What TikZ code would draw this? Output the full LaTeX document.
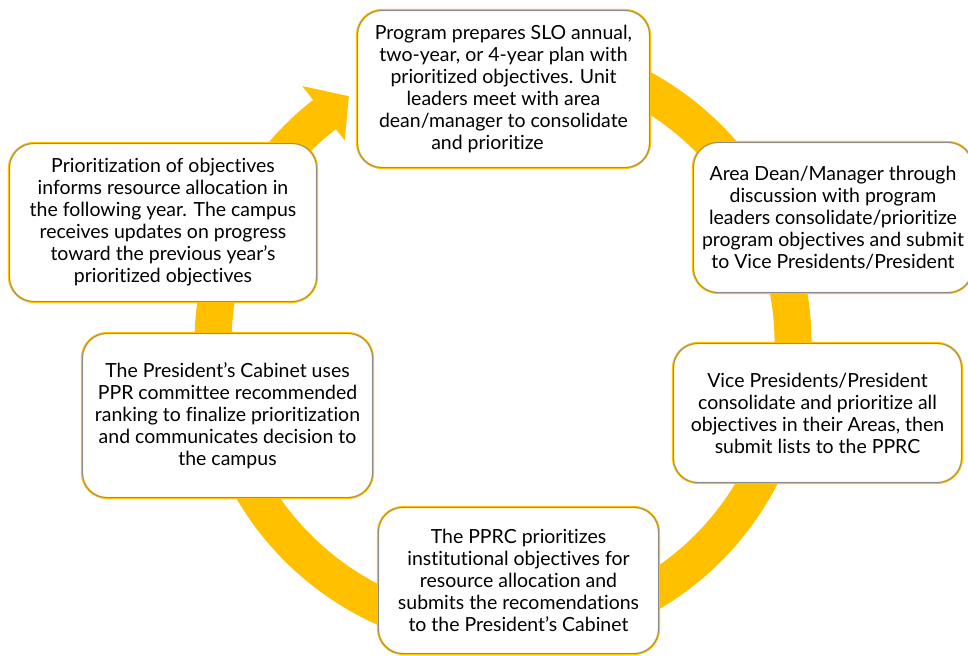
\documentclass[tikz,border=0pt]{standalone}
\usepackage{fontspec}
\setmainfont{Lato}[Ligatures={NoCommon}]
\usetikzlibrary{calc}
\definecolor{ringc}{HTML}{FFC000}
\newcommand\apo{\char"0027\relax}
\newcommand\pbox[5]{%
  \node[pbox, minimum width={#3*0.75pt}, minimum height={#4*0.75pt}] (#1) at #2 {#5};
  \draw[black!45, line width=0.6pt, rounded corners=18pt]
    ([shift={(1.6,1.6)}]#1.north west) rectangle ([shift={(-1.6,-1.6)}]#1.south east);
}
\begin{document}
\begin{tikzpicture}[x=0.75pt,y=-0.75pt,
  pbox/.style={draw=ringc, line width=1.7pt, fill=white, rounded corners=19pt,
    align=center, inner sep=0pt, font=\fontsize{14.6}{16.5}\selectfont}]
\useasboundingbox (0,0) rectangle (968,656);
\coordinate (c) at (503,343);
\coordinate (tail) at ($(c)+(260:290)$);
\coordinate (b1) at ($(c)+(232:257)$);
\coordinate (b2) at ($(c)+(232:326)$);
\coordinate (tip) at ($(c)+(238:291)$);
\draw[ringc, line width=27.75pt] (tail) arc[start angle=260, end angle=592.6, radius=290];
\fill[ringc] (b1) -- (b2) -- (tip) -- cycle;

\pbox{p1}{(503.5,89)}{293}{158}{Program prepares SLO annual,\\two-year, or 4-year plan with\\prioritized objectives. Unit\\leaders meet with area\\dean/manager to consolidate\\and prioritize\hspace*{24pt}}
\pbox{p2}{(833,217.5)}{280}{151}{Area Dean/Manager through\\discussion with program\\leaders consolidate/prioritize\\program objectives and submit\\to Vice Presidents/President}
\pbox{p3}{(163,222.5)}{308}{159}{Prioritization of objectives\\informs resource allocation in\\the following year. The campus\\receives updates on progress\\toward the previous year\apo s\\prioritized objectives}
\pbox{p4}{(227.5,415.5)}{291}{165}{The President\apo s Cabinet uses\\PPR committee recommended\\ranking to finalize prioritization\\and communicates decision to\\the campus}
\pbox{p5}{(817.5,413)}{289}{140}{Vice Presidents/President\\consolidate and prioritize all\\objectives in their Areas, then\\submit lists to the PPRC}
\pbox{p6}{(518.5,580.5)}{281}{147}{The PPRC prioritizes\\institutional objectives for\\resource allocation and\\submits the recomendations\\to the President\apo s Cabinet}
\end{tikzpicture}
\end{document}
